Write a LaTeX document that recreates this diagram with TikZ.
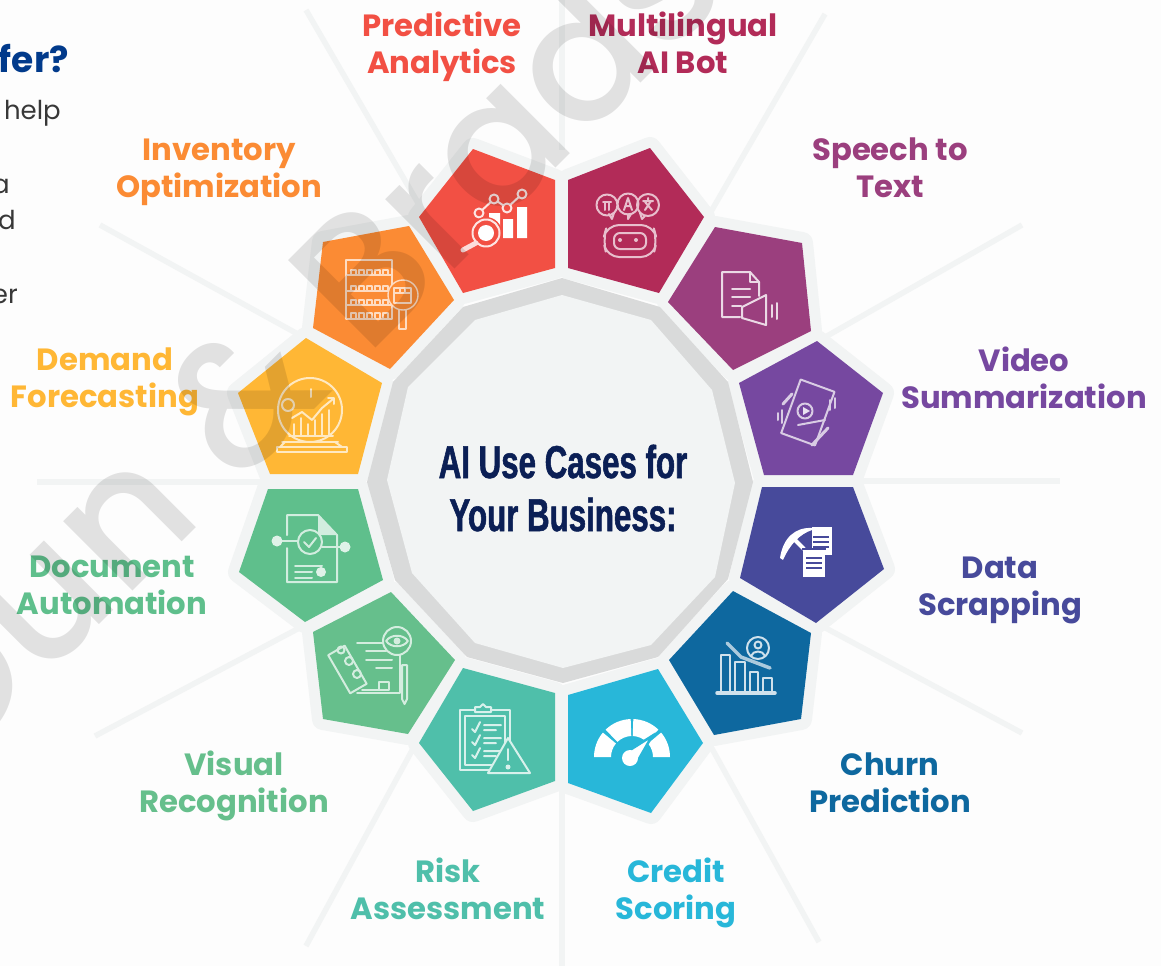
\documentclass[tikz,border=0pt]{standalone}
\usepackage{fontspec}
\setmainfont{Poppins}
\newfontfamily\cond[FakeStretch=0.68,BoldFeatures={FakeBold=1.2}]{Liberation Sans}
\newfontfamily\wmfont{Poppins Medium}
\definecolor{halo}{HTML}{F2F4F4}
\definecolor{ring}{HTML}{D9DADA}
\definecolor{cred}{HTML}{F25044}
\definecolor{ccrim}{HTML}{B22B58}
\definecolor{cspeech}{HTML}{9B3F7E}
\definecolor{cvideo}{HTML}{7648A0}
\definecolor{cdata}{HTML}{474A9B}
\definecolor{cchurn}{HTML}{0E689F}
\definecolor{ccredit}{HTML}{28B7D9}
\definecolor{crisk}{HTML}{4FBFAA}
\definecolor{cvisual}{HTML}{66BF8C}
\definecolor{cdoc}{HTML}{5FBF8C}
\definecolor{cdemand}{HTML}{FFB735}
\definecolor{cinv}{HTML}{FB8B34}
\definecolor{navy}{HTML}{0B1F55}
\definecolor{headblue}{HTML}{013A8B}
\definecolor{paper}{HTML}{FDFDFD}
\tikzset{
  spoke/.style={draw=halo,line width=5.5pt},
  pent/.style={draw=halo,line width=22pt,line join=round},
  petal/.style={fill=#1},
  lab/.style={text=#1,font=\fontsize{30.7}{37}\selectfont\bfseries,align=center,inner sep=0pt},
  ic/.style={draw=#1,line width=2pt,line join=round,line cap=round},
  leftt/.style={text=#1,font=\fontsize{26}{32}\selectfont,anchor=base east,inner sep=0pt}
}
\begin{document}
\begin{tikzpicture}[x=1pt,y=-1pt]
\useasboundingbox (0,0) rectangle (1161,966);
\clip (0,0) rectangle (1161,966);
\fill[paper] (0,0) rectangle (1161,966);
% spokes
\draw[spoke] (562,0) -- (562,150);
\draw[spoke] (562,790) -- (562,966);
\draw[spoke] (37,482) -- (262,482);
\draw[spoke] (860,481) -- (1060,481);
\draw[spoke] (306,10) -- (425,215);
\draw[spoke] (825,14) -- (705,222);
\draw[spoke] (100,225) -- (305,338);
\draw[spoke] (1022,225) -- (820,340);
\draw[spoke] (95,736) -- (305,625);
\draw[spoke] (1022,733) -- (820,625);
\draw[spoke] (306,946) -- (415,745);
\draw[spoke] (819,942) -- (710,745);
% halos
\foreach \p in {
 {(473,149)--(555,180)--(555,268)--(463,293)--(419,217)--cycle},
 {(568,180)--(650,148)--(704,217)--(659,293)--(568,268)--cycle},
 {(715,227)--(802,243)--(811,331)--(733,370)--(668,302)--cycle},
 {(817,341)--(883,393)--(853,475)--(764,475)--(739,383)--cycle},
 {(762,487)--(853,487)--(884,569)--(816,623)--(740,578)--cycle},
 {(733,591)--(811,633)--(801,719)--(714,735)--(669,660)--cycle},
 {(658,669)--(703,743)--(651,813)--(568,783)--(568,695)--cycle},
 {(463,668)--(555,693)--(555,781)--(473,811)--(419,743)--cycle},
 {(391,592)--(455,660)--(408,734)--(323,719)--(313,632)--cycle},
 {(268,489)--(358,489)--(383,580)--(305,622)--(239,572)--cycle},
 {(306,338)--(382,383)--(358,474)--(270,474)--(238,393)--cycle},
 {(323,242)--(409,226)--(454,300)--(390,369)--(313,328)--cycle}}
 {\draw[pent] \p;}
% ring
\fill[ring] (562,278)--(660,307)--(728,382)--(753,482)--(728,579)--(658,657)--(563,683)--(467,657)--(395,580)--(367,482)--(393,382)--(463,307)--cycle;
\fill[halo] (562,295)--(651,320)--(712,390)--(735,483)--(715,577)--(651,645)--(563,668)--(475,643)--(412,573)--(387,480)--(408,387)--(475,320)--cycle;
% petals
\fill[petal=cred] (473,149)--(555,180)--(555,268)--(463,293)--(419,217)--cycle;
\fill[petal=ccrim] (568,180)--(650,148)--(704,217)--(659,293)--(568,268)--cycle;
\fill[petal=cspeech] (715,227)--(802,243)--(811,331)--(733,370)--(668,302)--cycle;
\fill[petal=cvideo] (817,341)--(883,393)--(853,475)--(764,475)--(739,383)--cycle;
\fill[petal=cdata] (762,487)--(853,487)--(884,569)--(816,623)--(740,578)--cycle;
\fill[petal=cchurn] (733,591)--(811,633)--(801,719)--(714,735)--(669,660)--cycle;
\fill[petal=ccredit] (658,669)--(703,743)--(651,813)--(568,783)--(568,695)--cycle;
\fill[petal=crisk] (463,668)--(555,693)--(555,781)--(473,811)--(419,743)--cycle;
\fill[petal=cvisual] (391,592)--(455,660)--(408,734)--(323,719)--(313,632)--cycle;
\fill[petal=cdoc] (268,489)--(358,489)--(383,580)--(305,622)--(239,572)--cycle;
\fill[petal=cdemand] (306,338)--(382,383)--(358,474)--(270,474)--(238,393)--cycle;
\fill[petal=cinv] (323,242)--(409,226)--(454,300)--(390,369)--(313,328)--cycle;
% --- icons ---
% predictive
\fill[white] (489,213) rectangle (500,238) (503,219) rectangle (513,238) (517,207) rectangle (527,238);
\draw[ic=white!85!cred] (479,213)--(494,199)--(507,208)--(522,194);
\foreach \c in {(479,213),(494,199),(507,208),(522,194)} \filldraw[ic=white!85!cred,fill=cred] \c circle (4.5);
\fill[cred] (486,233) circle (16);
\draw[ic=white!85!cred] (486,233) circle (13.5);
\fill[white] (486,233) circle (8);
\draw[white!80!cred,line width=5pt,line cap=round] (476,243)--(463,250);
% multilingual
\begin{scope}[every path/.style={ic=white!70!ccrim}]
\draw (607,205) circle (10.5);
\draw (628,204) circle (10.5);
\draw (648,205) circle (11);
\draw (609,214)--(612,219)--(614,213) (628,214)--(628,219)--(631,214) (645,216)--(642,219)--(640,213);
\draw (603,202)--(611,202) (605,202)--(605,210) (609,202)--(609,210);
\draw (624,210)--(628,198)--(632,210) (625.5,206)--(630.5,206);
\draw (643,201)--(653,201) (648,198)--(648,201) (645,210)--(651,201) (645,202)--(652,210);
\draw[rounded corners=12pt] (607,225)--(653,225)--(657,240)--(653,257)--(607,257)--(603,240)--cycle;
\draw[rounded corners=6pt] (614,233) rectangle (646,249);
\fill[white!70!ccrim,draw=none] (620,240) circle (2) (636,240) circle (2);
\end{scope}
% speech
\begin{scope}[every path/.style={ic=white!80!cspeech}]
\draw (740,317)--(722,317)--(722,272)--(750,272)--(759,282)--(759,296);
\draw (750,272)--(750,282)--(759,282);
\draw (732,289)--(750,289) (732,297)--(750,297) (732,306)--(741,306);
\draw (742,307)--(766,295)--(766,325)--(742,318)--cycle;
\draw (772,305)--(772,317) (777,303)--(777,319);
\end{scope}
% video
\begin{scope}[every path/.style={ic=white!72!cvideo}]
\draw[rotate around={-20:(808,412)}] (790,384)--(826,384)--(826,441)--(790,441)--(790,394)--cycle;
\draw (805,411) circle (7.5);
\fill[white!85!cvideo,draw=none] (803,407)--(810,411)--(803,415)--cycle;
\draw (798,425)--(825,420);
\draw[line width=3pt] (812,445)--(828,428);
\draw (778,413)--(778,420) (782,410)--(782,423) (830,400)--(830,410) (835,398)--(835,408);
\draw[line width=3pt] (783,404)--(792,394);
\end{scope}
% data
\fill[white] (780,558) .. controls (783,538) and (795,527) .. (812,528) -- (812,530) .. controls (800,534) and (790,544) .. (783,560) -- cycle;
\draw[white,line width=4pt] (795,540)--(804,549);
\fill[white] (812,527) -- (832,527) -- (832,555) -- (812,555) -- cycle;
\fill[white] (803,550) -- (825,550) -- (825,577) -- (803,577) -- cycle;
\draw[cdata,line width=1.2pt] (813,537)--(829,537) (813,542)--(829,542) (813,547)--(829,547) (806,558)--(822,558) (806,563)--(822,563) (806,568)--(822,568);
\draw[cdata,line width=1.2pt] (802,549)--(826,549);
% churn
\begin{scope}[every path/.style={ic=white!80!cchurn}]
\draw (721,693)--(721,655)--(730,655)--(730,693);
\draw (735,693)--(735,662)--(745,662)--(745,693);
\draw (750,693)--(750,672)--(758,672)--(758,693);
\draw (763,693)--(763,678)--(772,678)--(772,693);
\draw[line width=3.5pt] (717,693)--(775,693);
\draw[line width=3.5pt,white!65!cchurn] (727,643)--(741,657)--(770,668);
\fill[cchurn,draw=none] (758,648) circle (11);
\draw (758,648) circle (11);
\draw (758,645) circle (3.5);
\draw (751,656) .. controls (753,650) and (763,650) .. (765,656);
\end{scope}
% credit
\begin{scope}[shift={(632,757)},x=1pt,y=1pt]
\fill[white] (180:38) arc (180:140:38) -- (140:21) arc (140:180:21) -- cycle;
\fill[white] (134:38) arc (134:92:38) -- (92:21) arc (92:134:21) -- cycle;
\fill[white] (88:38) arc (88:46:38) -- (46:21) arc (46:88:21) -- cycle;
\fill[white] (40:38) arc (40:0:38) -- (0:21) arc (0:40:21) -- cycle;
\filldraw[draw=ccredit,line width=2.5pt,fill=white] (20,21) -- (4,-7) arc (-60:-210:8) -- cycle;
\fill[white] (-2,-1) circle (8);
\end{scope}
% risk
\begin{scope}[every path/.style={ic=white!78!crisk}]
\draw (460,710) rectangle (510,770);
\draw (465,716) rectangle (505,765);
\filldraw[fill=crisk] (475,712)--(475,707)--(480,707)--(483,704)--(486,707)--(491,707)--(491,712)--cycle;
\foreach \y in {725,738,751}{\draw (472,\y+4)--(475,\y+7)--(480,\y-3) (484,\y)--(501,\y) (484,\y+5)--(496,\y+5);}
\filldraw[fill=crisk] (508,738)--(530,773)--(488,773)--cycle;
\draw (508,749)--(508,760);
\fill[white!78!crisk,draw=none] (508,767) circle (2.5);
\end{scope}
% visual
\begin{scope}[every path/.style={ic=white!72!cvisual}]
\draw (357,643)--(400,643)--(400,693)--(357,693);
\draw (366,651)--(386,651) (366,660)--(392,660) (376,668)--(392,668) (362,690)--(385,690);
\filldraw[fill=cvisual,rotate around={30:(346,668)}] (337,648)--(356,648)--(356,692)--(337,692)--cycle;
\draw (341,650) circle (3.5) (349,661) circle (4) (357,674) circle (4);
\filldraw[fill=cvisual] (379,682) rectangle (389,690);
\filldraw[fill=cvisual] (397,641) circle (14);
\draw (386,641) .. controls (391,634) and (403,634) .. (408,641) .. controls (403,648) and (391,648) .. (386,641);
\fill[white!72!cvisual,draw=none] (397,641) circle (3.5);
\draw (402,665)--(407,665)--(407,699)--(404.5,704)--(402,699)--cycle;
\end{scope}
% document
\begin{scope}[every path/.style={ic=white!72!cdoc}]
\draw (287,535)--(287,515)--(318,515)--(337,535)--(337,582)--(287,582)--(287,548);
\fill[white!72!cdoc,draw=none] (318,515)--(337,535)--(318,535)--cycle;
\draw (310,542) circle (12);
\draw (304,542)--(309,547)--(316,538);
\draw (277,541)--(298,541) (322,547)--(345,547);
\fill[white!80!cdoc,draw=none] (277,541) circle (5.5) (345,547) circle (5.5);
\draw (295,566)--(322,566) (295,572)--(312,572) (295,578)--(312,578);
\fill[white!80!cdoc,draw=none] (321,572) circle (5);
\end{scope}
% demand
\begin{scope}[every path/.style={ic=white!70!cdemand}]
\draw (310,410) circle (32);
\draw (282,442)--(338,442);
\draw (277,447) rectangle (347,452);
\draw (285,442)--(280,447) (335,442)--(342,447);
\draw (288,405) circle (6);
\draw (311,389)--(311,397);
\draw[line width=2pt] (292,418)--(302,412)--(312,420)--(322,408)--(333,399);
\draw (294,436)--(294,424) (301,436)--(301,418) (308,436)--(308,424) (315,436)--(315,420) (322,436)--(322,414) (329,436)--(329,410);
\draw (289,436)--(333,436);
\draw (328,398)--(334,398)--(334,404);
\end{scope}
% inventory
\begin{scope}[every path/.style={ic=white!70!cinv,line width=1.4pt}]
\draw (346,260) rectangle (392,319);
\draw (346,275)--(392,275) (346,291)--(392,291) (346,305)--(392,305);
\foreach \x in {351,359,367,375,383}{\draw (\x,270) rectangle (\x+5,275) (\x,286) rectangle (\x+5,291) (\x,300) rectangle (\x+5,305) (\x,313) rectangle (\x+5,319);}
\filldraw[fill=cinv] (403,295) circle (15);
\filldraw[fill=cinv] (394,288) rectangle (411,303);
\draw (394,293)--(411,293) (400,288)--(400,293) (405,288)--(405,293);
\draw (399,310)--(399,329)--(406,329)--(406,310);
\end{scope}
% labels
\node[lab=cred] (l1) at (442,47) {Predictive\\Analytics};
\node[lab=ccrim] (l2) at (683,43) {Multilingual\\AI Bot};
\node[lab=cspeech] (l3) at (890,168) {Speech to\\Text};
\node[lab=cvideo] (l4) at (1024,377.5) {Video\\Summarization};
\node[lab=cdata] (l5) at (1000,590) {Data\\Scrapping};
\node[lab=cchurn] (l6) at (890,783) {Churn\\Prediction};
\node[lab=ccredit] (l7) at (676,893) {Credit\\Scoring};
\node[lab=crisk] (l8) at (448,889) {Risk\\Assessment};
\node[lab=cvisual] (l9) at (234,786) {Visual\\Recognition};
\node[lab=cdoc] (l10) at (112,585) {Document\\Automation};
\node[lab=cdemand] (l11) at (105,382) {Demand\\Forecasting};
\node[lab=cinv] (l12) at (219,172) {Inventory\\Optimization};
% centre
\node[text=navy,anchor=base,inner sep=0pt,font=\cond\fontsize{46}{46}\selectfont\bfseries] (t1) at (563,478) {AI Use Cases for};
\node[text=navy,anchor=base,inner sep=0pt,font=\cond\fontsize{46}{46}\selectfont\bfseries] (t2) at (563,531) {Your Business:};
% left cut-off text
\node[text=headblue,anchor=base east,inner sep=0pt,font=\fontsize{36}{40}\selectfont\bfseries] (h) at (69,72) {fer?};
\node[leftt=black!78] (a) at (61,119) {help};
\node[leftt=black!78] (b) at (10,193) {a};
\node[leftt=black!78] (c) at (16,229) {d};
\node[leftt=black!78] (d) at (18,303) {er};
% watermark
\node[anchor=base west,rotate=45,inner sep=0pt,text=black,text opacity=.11,font=\wmfont\fontsize{178}{178}\selectfont] (w) at (-47.5,771.5) {Dun \& Brads};
\end{tikzpicture}
\end{document}
